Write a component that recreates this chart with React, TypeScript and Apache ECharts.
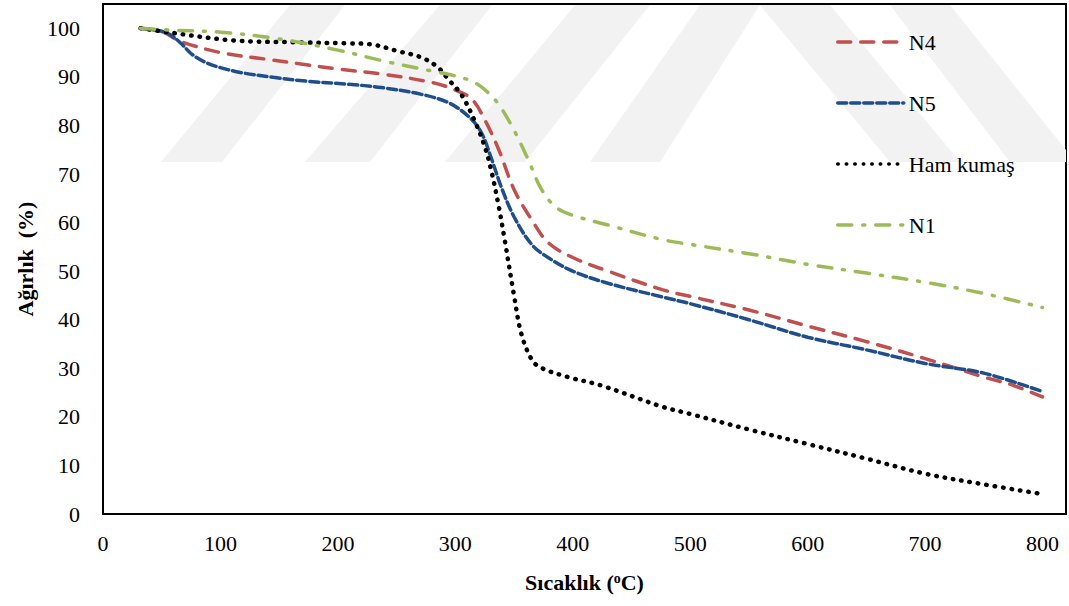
import React, { useEffect, useRef } from "react";
import * as echarts from "echarts";

const xTicks = [0, 100, 200, 300, 400, 500, 600, 700, 800];
const yTicks = [0, 10, 20, 30, 40, 50, 60, 70, 80, 90, 100];

const n4: [number, number][] = [
  [32, 100], [50, 99.3], [66, 97.3], [100, 95], [140, 93.6], [170, 92.6], [200, 91.6], [237, 90.6],
  [279, 88.9], [299, 87.4], [314, 85.4], [325, 81.2], [337, 75], [350, 66.8], [365, 60.6],
  [379, 55.9], [400, 52.8], [430, 50], [476, 46.2], [500, 44.8], [550, 42], [600, 38.7],
  [650, 35.5], [700, 32], [750, 28.2], [775, 26.5], [800, 24.1],
];

const n5: [number, number][] = [
  [32, 100], [48, 99.5], [57, 98.7], [66, 97], [76, 94.6], [88, 92.9], [100, 91.9], [117, 90.9],
  [145, 89.9], [174, 89.1], [208, 88.5], [237, 87.8], [271, 86.4], [294, 84.7], [311, 81.9],
  [322, 78.6], [331, 73], [339, 67.4], [350, 61.2], [365, 55.5], [379, 52.8], [400, 50],
  [430, 47.5], [476, 44.7], [500, 43.3], [550, 40], [600, 36.4], [650, 33.8], [700, 31],
  [750, 29], [800, 25.2],
];

const ham: [number, number][] = [
  [32, 100], [55, 99.2], [111, 97.5], [168, 97.1], [208, 96.9], [228, 96.7], [251, 95.3],
  [271, 94], [285, 92], [294, 89.5], [305, 86.4], [316, 81.2], [325, 75.7], [331, 70.3],
  [337, 63.3], [342, 56.5], [350, 45], [356, 37.3], [365, 31.8], [373, 30.1], [396, 28.2],
  [425, 26.4], [476, 22.1], [500, 20.6], [550, 17.4], [600, 14.4], [650, 11.4], [700, 8.3],
  [750, 6.1], [800, 4.1],
];

const n1: [number, number][] = [
  [32, 100], [60, 99.6], [100, 99.2], [150, 97.8], [200, 95.5], [240, 93.2], [280, 91.2],
  [300, 90.2], [315, 89], [325, 87.4], [337, 84.3], [350, 79], [362, 73], [373, 67], [385, 63.3],
  [400, 61.5], [430, 59.5], [476, 56.5], [500, 55.5], [550, 53.6], [600, 51.4], [650, 49.6],
  [700, 47.7], [750, 45.4], [800, 42.5],
];

const seriesNames = ["N4", "N5", "Ham kumaş", "N1"];
const seriesColors = ["#C0504D", "#1F4E8C", "#000000", "#9BBB59"];

const watermark: number[][][] = [
  [[161, 162], [222, 162], [345, 5], [290, 5]],
  [[305, 162], [370, 162], [492, 5], [440, 5]],
  [[445, 162], [525, 162], [650, 5], [575, 5]],
  [[590, 162], [660, 162], [760, 5], [700, 5]],
  [[760, 5], [830, 5], [960, 162], [890, 162]],
  [[890, 5], [950, 5], [1066, 150], [1066, 162], [1010, 162]],
];

export default function App() {
  const ref = useRef<HTMLDivElement>(null);
  useEffect(() => {
    if (!ref.current) return;
    const chart = echarts.init(ref.current, undefined, { renderer: "svg" });
    const font = "'Liberation Serif', 'Times New Roman', serif";
    const dashes: any[] = [[13, 10], [9, 4], [0.5, 8], [14, 11, 2, 11]];
    const widths = [3.5, 3.5, 4.5, 3.5];
    const datas = [n4, n5, ham, n1];
    chart.setOption({
      animation: false,
      backgroundColor: "#ffffff",
      textStyle: { fontFamily: font },
      grid: {
        left: 103, right: 3, top: 4, bottom: 92,
        show: true, borderColor: "#000", borderWidth: 2, backgroundColor: "transparent",
      },
      graphic: watermark.map((pts) => ({
        type: "polygon",
        z: 0,
        silent: true,
        shape: { points: pts },
        style: { fill: "#f2f2f2" },
      })),
      legend: {
        orient: "vertical",
        left: 836,
        top: 30,
        padding: 0,
        itemWidth: 66,
        itemHeight: 14,
        itemGap: 37,
        data: seriesNames,
        itemStyle: { opacity: 0 },
        lineStyle: { width: 3.5 },
        textStyle: { fontFamily: font, fontSize: 22, color: "#000", lineHeight: 24 },
      },
      xAxis: {
        type: "value",
        min: 0,
        max: 820,
        interval: 100,
        splitLine: { show: false },
        axisTick: { show: false },
        axisLine: { show: true, lineStyle: { color: "#000", width: 2 } },
        axisLabel: {
          color: "#000", fontSize: 22, fontFamily: font, margin: 18,
          formatter: (v: number) => (xTicks.includes(v) ? String(v) : ""),
        },
        name: "Sıcaklık ({s|o}C)",
        nameLocation: "middle",
        nameGap: 57,
        nameTextStyle: {
          color: "#000", fontSize: 22, fontWeight: "bold", fontFamily: font,
          rich: { s: { fontSize: 14, fontWeight: "bold", verticalAlign: "top", padding: [0, 0, 8, 0], fontFamily: font } },
        },
      },
      yAxis: {
        type: "value",
        min: 0,
        max: 105,
        interval: 10,
        splitLine: { show: false },
        axisTick: { show: false },
        axisLine: { show: true, lineStyle: { color: "#000", width: 2 } },
        axisLabel: {
          color: "#000", fontSize: 22, fontFamily: font, margin: 23,
          formatter: (v: number) => (yTicks.includes(v) ? String(v) : ""),
        },
        name: "Ağırlık  (%)",
        nameLocation: "middle",
        nameGap: 66,
        nameRotate: 90,
        nameTextStyle: { color: "#000", fontSize: 22, fontWeight: "bold", fontFamily: font },
      },
      series: seriesNames.map((name, i) => ({
        name,
        type: "line",
        data: datas[i],
        smooth: 0.35,
        showSymbol: false,
        symbol: "none",
        z: 3,
        color: seriesColors[i],
        lineStyle: { color: seriesColors[i], width: widths[i], type: dashes[i], cap: "round" },
      })),
    });
    return () => chart.dispose();
  }, []);
  return (
    <div
      ref={ref}
      style={{ position: "fixed", left: 0, top: 0, width: 1069, height: 606, background: "#fff" }}
    />
  );
}
